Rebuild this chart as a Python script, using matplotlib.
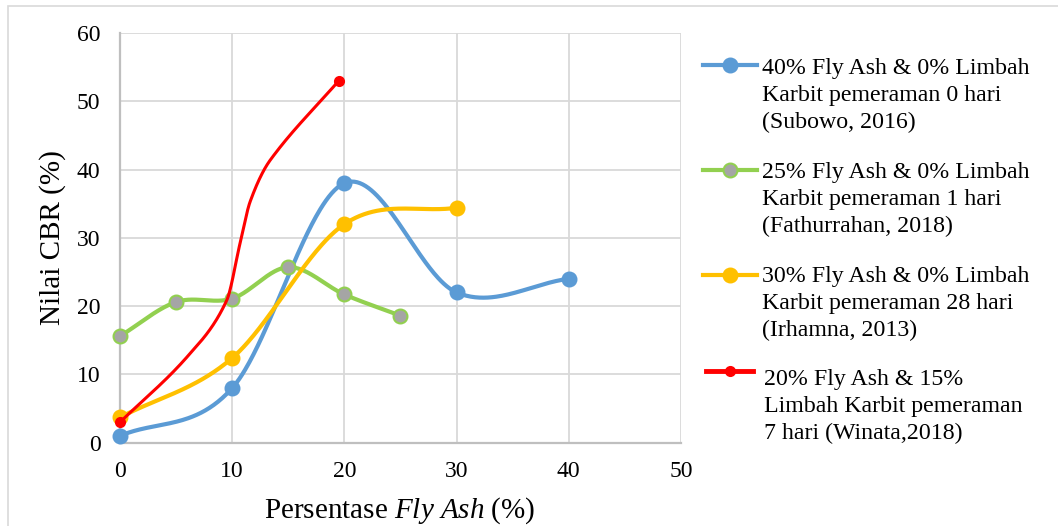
import numpy as np
import matplotlib
matplotlib.use("Agg")
import matplotlib.pyplot as plt
from matplotlib.lines import Line2D

# ---- data -------------------------------------------------------------
x_subowo = [0, 10, 20, 30, 40]
y_subowo = [1.0, 8.0, 38.0, 22.0, 24.0]

x_fathur = [0, 5, 10, 15, 20, 25]
y_fathur = [15.6, 20.6, 21.1, 25.7, 21.7, 18.6]

x_irhamna = [0, 10, 20, 30]
y_irhamna = [3.7, 12.4, 32.0, 34.4]

x_winata = [0, 6, 9.5, 10.7, 11.6, 13.4, 19.5]
y_winata = [3.0, 12.6, 20.8, 29.2, 35.3, 41.4, 53.0]

legend_labels = [
    ["40% Fly Ash & 0% Limbah", "Karbit pemeraman 0 hari", "(Subowo, 2016)"],
    ["25% Fly Ash & 0% Limbah", "Karbit pemeraman 1 hari", "(Fathurrahan, 2018)"],
    ["30% Fly Ash & 0% Limbah", "Karbit pemeraman 28 hari", "(Irhamna, 2013)"],
    ["20% Fly Ash & 15%", "Limbah Karbit pemeraman", "7 hari (Winata,2018)"],
]

x_ticks = [0, 10, 20, 30, 40, 50]
y_ticks = [0, 10, 20, 30, 40, 50, 60]

# ---- styling ----------------------------------------------------------
plt.rcParams["font.family"] = ["Liberation Serif", "DejaVu Serif"]
plt.rcParams["mathtext.fontset"] = "custom"
plt.rcParams["mathtext.rm"] = "Liberation Serif"
plt.rcParams["mathtext.it"] = "Liberation Serif:italic"

W, H = 1058, 526
fig = plt.figure(figsize=(W / 100, H / 100), dpi=100)


def px(x, y):
    """pixel position (from top-left) -> figure fraction"""
    return x / W, 1 - y / H


def smooth(xs, ys, n=80):
    """Cardinal (Catmull-Rom style) cubic Hermite curve through the points."""
    x = np.asarray(xs, float)
    y = np.asarray(ys, float)
    m = np.empty_like(y)
    m[1:-1] = (y[2:] - y[:-2]) / (x[2:] - x[:-2])
    m[0] = (y[1] - y[0]) / (x[1] - x[0])
    m[-1] = (y[-1] - y[-2]) / (x[-1] - x[-2])
    ox, oy = [], []
    for i in range(len(x) - 1):
        h = x[i + 1] - x[i]
        t = np.linspace(0, 1, n)
        h00 = 2 * t**3 - 3 * t**2 + 1
        h10 = t**3 - 2 * t**2 + t
        h01 = -2 * t**3 + 3 * t**2
        h11 = t**3 - t**2
        seg_y = h00 * y[i] + h10 * h * m[i] + h01 * y[i + 1] + h11 * h * m[i + 1]
        seg_x = x[i] + t * h
        if i > 0:
            seg_x, seg_y = seg_x[1:], seg_y[1:]
        ox.append(seg_x)
        oy.append(seg_y)
    return np.concatenate(ox), np.concatenate(oy)


# outer chart frame
frame = plt.Rectangle(px(8, 600), (1100 - 8) / W, (600 - 6) / H,
                      transform=fig.transFigure, fill=False,
                      edgecolor="#d9d9d9", lw=1.2, zorder=0)
fig.patches.append(frame)

left, right, top, bottom = 120, 681, 32.9, 442.7
ax = fig.add_axes([left / W, 1 - bottom / H, (right - left) / W, (bottom - top) / H])
ax.set_xlim(0, 50)
ax.set_ylim(0, 60)
ax.set_xticks(x_ticks)
ax.set_yticks(y_ticks)
ax.grid(True, color="#d9d9d9", lw=1.3, zorder=0)
ax.set_axisbelow(True)
for s in ["top", "right"]:
    ax.spines[s].set_visible(False)
for s in ["left", "bottom"]:
    ax.spines[s].set_color("#bfbfbf")
    ax.spines[s].set_linewidth(1.6)
ax.tick_params(length=0, labelsize=17, colors="black")
ax.tick_params(axis="x", pad=13)
ax.tick_params(axis="y", pad=14)

series = [
    dict(x=x_subowo, y=y_subowo, color="#5b9bd5", mfc="#5b9bd5", mec="#5b9bd5", lw=3.0, ms=10),
    dict(x=x_fathur, y=y_fathur, color="#92d050", mfc="#a5a5a5", mec="#92d050", lw=3.0, ms=10),
    dict(x=x_irhamna, y=y_irhamna, color="#ffc000", mfc="#ffc000", mec="#ffc000", lw=3.0, ms=10),
    dict(x=x_winata, y=y_winata, color="#ff0000", mfc="#ff0000", mec="#ff0000", lw=2.2, ms=6.5),
]

for i, s in enumerate(series):
    sx, sy = smooth(s["x"], s["y"])
    ax.plot(sx, sy, color=s["color"], lw=s["lw"], solid_capstyle="round", zorder=3 + i)
    if i == 3:
        # this series is marked only at its first and last reading
        mx, my = [s["x"][0], s["x"][-1]], [s["y"][0], s["y"][-1]]
    else:
        mx, my = s["x"], s["y"]
    ax.plot(mx, my, ls="none", marker="o", ms=s["ms"], mfc=s["mfc"],
            mec=s["mec"], mew=1.5, zorder=3 + i, clip_on=False)

# axis titles
fig.text(*px(400, 518), r"Persentase $\mathit{Fly\ Ash}$ (%)", ha="center",
         va="baseline", fontsize=21)
fig.text(*px(53, 237.5), "Nilai CBR (%)", rotation=90, ha="center",
         va="center", fontsize=21)

# legend
entry_line_y = [65, 170, 275, 371]
entry_text_y = [74.3, 177.7, 282.0, 385.0]
line_step = 27.0
for i, (s, lines) in enumerate(zip(series, legend_labels)):
    x0, x1 = (703, 757) if i < 3 else (706, 753)
    (fx0, fy), (fx1, _) = px(x0, entry_line_y[i]), px(x1, entry_line_y[i])
    fig.add_artist(Line2D([fx0, fx1], [fy, fy], transform=fig.transFigure,
                          color=s["color"], lw=s["lw"] if i < 3 else 3.5))
    fig.add_artist(Line2D([(fx0 + fx1) / 2], [fy], transform=fig.transFigure,
                          ls="none", marker="o", ms=s["ms"], mfc=s["mfc"],
                          mec=s["mec"], mew=1.5))
    tx = 762 if i < 3 else 764
    for k, line in enumerate(lines):
        fig.text(*px(tx, entry_text_y[i] + k * line_step), line, ha="left",
                 va="baseline", fontsize=17.2)

fig.savefig("out.png", dpi=100)
